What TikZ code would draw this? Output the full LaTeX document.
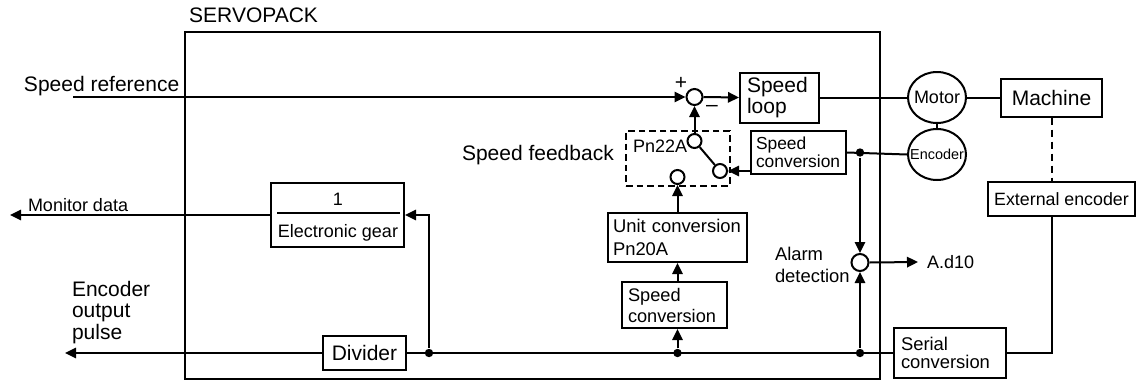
\documentclass[tikz,border=0pt]{standalone}
\usepackage{fontspec}
\setmainfont{Liberation Sans}
\usetikzlibrary{positioning}
\usetikzlibrary{arrows.meta, shapes.geometric}

\begin{document}
\begin{tikzpicture}[
	x=0.5pt, y=-0.5pt,
	line width=1pt,
	big/.style={font=\fontsize{10.5}{10.5}\selectfont},
	sml/.style={font=\fontsize{9}{10}\selectfont},
	txt/.style={inner sep=0pt},
	block/.style={draw, rectangle, inner ysep=0pt, align=left},
	sumpt/.style={draw, circle, minimum size=8pt, inner sep=0pt},
	contact/.style={draw, circle, minimum size=7pt, inner sep=0pt},
	rotor/.style={draw, ellipse, minimum width=29pt, minimum height=25.5pt, inner sep=0pt},
	dot/.style={circle, fill, minimum size=4.2pt, inner sep=0pt},
	arrow/.style={-{Triangle[length=5.5pt, width=5.2pt]}},
	node distance=2pt
	]
	
	\useasboundingbox (0,0) rectangle (1136,381);
	
	% -------------------------------
	% SERVOPACK
	% -------------------------------
	\node[draw, line width=0.8pt, minimum width=347.5pt, minimum height=173.5pt, inner sep=0pt] (servopack) at (532.5,205.5) {};
	\node[big, txt, anchor=base west] (splabel) at ([xshift=2pt, yshift=4.5pt]servopack.north west) {SERVOPACK};
	
	% -------------------------------
	% SPEED LOOP
	% -------------------------------
	\node[big, txt, anchor=base west] (reflabel) at (23,91) {Speed reference};
	\coordinate (refin) at (73,97);
	\node[sumpt] (sum) at (694.5,97) {};
	\node[big, txt] (plus) at (681,83) {+};
	\node[big, txt] (minus) at (712,108) {–};
	\node[block, big, text width=32.5pt, inner xsep=3.5pt, minimum height=25pt] (sloop) at (779.5,97.5) {Speed\\loop};
	
	% -------------------------------
	% MOTOR / MACHINE
	% -------------------------------
	\node[rotor] (motor) at (937,97.5) {};
	\node[sml, txt] (motorlbl) at (motor) {Motor};
	\node[rotor, below=of motor] (enc) {};
	\node[txt, font=\fontsize{7.2}{8}\selectfont] (enclbl) at (enc) {Encoder};
	\node[block, big, align=center, minimum width=50.5pt, minimum height=19pt] (machine) at (1051.5,97.5) {Machine};
	\node[block, font=\fontsize{8.9}{10}\selectfont, align=center, inner xsep=2pt, minimum width=73.5pt, minimum height=17pt] (extenc) at (1061.5,199) {External encoder};
	\node[block, font=\fontsize{9.2}{9}\selectfont, text width=49pt, inner xsep=3.5pt, minimum height=25pt] (serial) at (950,353) {Serial\\conversion};
	
	% -------------------------------
	% SPEED FEEDBACK
	% -------------------------------
	\node[big, txt, anchor=base west] (fblabel) at (461,160) {Speed feedback};
	\node[draw, dash pattern=on 3.3pt off 2pt, minimum width=52pt, minimum height=27.5pt, inner sep=0pt] (sel) at (678,158.5) {};
	\node[sml, txt, anchor=base west] (pnsel) at (632,152) {Pn22A};
	\node[contact] (cup) at (694.5,141) {};
	\node[contact] (clow) at (677.5,177) {};
	\node[contact] (cright) at (720,171) {};
	\node[block, font=\fontsize{8.7}{8.1}\selectfont, text width=42.5pt, inner xsep=2.5pt, minimum height=21.5pt] (sconv1) at (798.5,152.5) {Speed\\conversion};
	\node[block, font=\fontsize{9.2}{11.5}\selectfont, text width=64.5pt, inner xsep=2.5pt, minimum height=24.5pt] (uconv) at (677.5,237.5) {Unit conversion\\Pn20A};
	\node[block, font=\fontsize{9.1}{10.5}\selectfont, text width=46.5pt, inner xsep=3pt, minimum height=23pt] (sconv2) at (674.5,305) {Speed\\conversion};
	
	% -------------------------------
	% ALARM DETECTION
	% -------------------------------
	\node[sumpt, minimum size=8.5pt] (alarm) at (860,262.5) {};
	\node[txt, font=\fontsize{9.2}{11.2}\selectfont, anchor=north west, align=left] (alarmlbl) at (774,246) {Alarm\\detection};
	\node[sml, anchor=west, inner xsep=4pt, inner ysep=0pt] (ad) at (918,262) {A.d10};
	
	% -------------------------------
	% OUTPUTS
	% -------------------------------
	\node[block, big, align=center, minimum width=41.5pt, minimum height=17pt] (div) at (364.5,353) {Divider};
	\node[draw, minimum width=66.5pt, minimum height=32pt, inner sep=0pt] (egear) at (337.5,215) {};
	\node[sml, txt] (gnum) at (338,199) {1};
	\node[sml, txt, anchor=base] (gname) at (338,237) {Electronic gear};
	\coordinate (monout) at (10,215);
	\node[sml, txt, anchor=base west] (monlabel) at (27,211) {Monitor data};
	\coordinate (encout) at (65,353);
	\node[txt, font=\fontsize{10.5}{10.75}\selectfont, anchor=north west, align=left] (eolabel) at (71,280) {Encoder\\output\\pulse};
	
	% branch points
	\node[dot] (db) at (860,152.5) {};
	\node[dot] (da) at (860,353) {};
	\node[dot] (dc) at (677.5,353) {};
	\node[dot] (dd) at (429,353) {};
	
	% -------------------------------
	% ARROWS
	% -------------------------------
	\draw[arrow] (refin) -- (sum.west);
	\draw[arrow] (sum.east) -- (sloop.west);
	\draw (sloop.east) -- (motor.west);
	\draw (motor.east) -- (machine.west);
	\draw (motor.south) -- (enc.north);
	\draw[dash pattern=on 3.5pt off 2.5pt] (machine.south) -- (machine.south |- extenc.north);
	\draw (extenc.south -| machine.south) |- (serial.east);
	
	\draw (enc.west) -- (sconv1.east);
	\draw[arrow] (sconv1.west |- cright) -- (cright.east);
	\draw (cup) -- (cright);
	\draw[arrow] (cup) -- (sum);
	\draw[arrow] (uconv) -- (clow);
	\draw[arrow] (sconv2.north -| dc) -- (uconv.south);
	\draw[arrow] (dc) -- (dc |- sconv2.south);
	
	\draw[arrow] (db) -- (alarm.north);
	\draw[arrow] (da) -- (alarm.south);
	\draw[arrow] (alarm.east) -- (ad.west);
	
	\draw (serial.west) -- (div.east);
	\draw[arrow] (div.west) -- (encout);
	\draw[arrow] (dd) |- (egear.east);
	\draw[arrow] (egear.west) -- (monout);
	\draw ([xshift=3.5pt, yshift=1pt]egear.west) -- ([xshift=-2.5pt, yshift=1pt]egear.east);
	
\end{tikzpicture}
\end{document}
